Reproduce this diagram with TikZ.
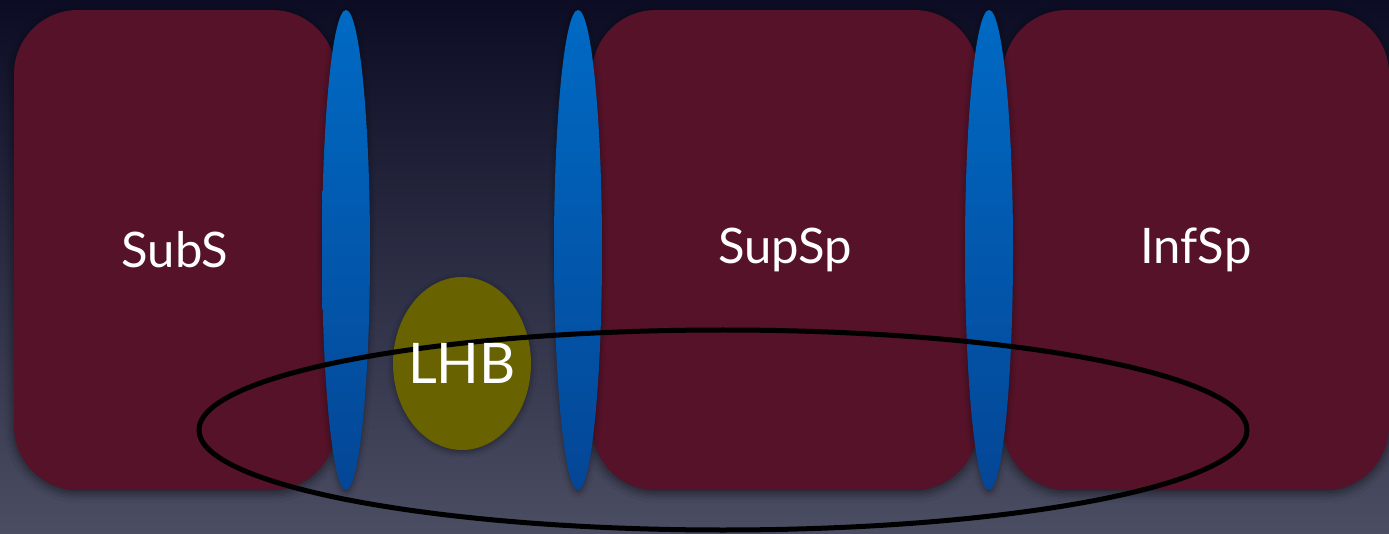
\documentclass[tikz,border=0pt]{standalone}
\usepackage{fontspec}
\setmainfont{Lato}
\usetikzlibrary{shapes.geometric,shadows.blur}

\definecolor{bgtop}{RGB}{12,13,36}
\definecolor{bgmid}{RGB}{36,38,62}
\definecolor{bgbot}{RGB}{75,77,99}
\definecolor{maroon}{RGB}{86,18,40}
\definecolor{bluetop}{RGB}{0,106,196}
\definecolor{bluebot}{RGB}{4,70,150}
\definecolor{olive}{RGB}{104,98,0}

\tikzset{
  region/.style={rectangle, rounded corners=64pt, fill=maroon, inner sep=0pt,
    minimum height=480pt, text=white, font=\fontsize{49}{52}\selectfont,
    blur shadow={shadow xshift=0pt, shadow yshift=-3pt, shadow blur radius=9pt, shadow opacity=55}},
  wall/.style={ellipse, inner sep=0pt, minimum width=48pt, minimum height=480pt,
    top color=bluetop, bottom color=bluebot,
    blur shadow={shadow xshift=0pt, shadow yshift=-2pt, shadow blur radius=6pt, shadow opacity=45}},
  blob/.style={ellipse, inner sep=0pt, fill=olive, minimum width=138pt, minimum height=173pt,
    blur shadow={shadow xshift=0pt, shadow yshift=-2pt, shadow blur radius=6pt, shadow opacity=45}},
  ring/.style={ellipse, draw=black, line width=5pt, inner sep=0pt,
    minimum width=1048pt, minimum height=200pt},
  blobtext/.style={text=white, font=\fontsize{56}{60}\selectfont, inner sep=0pt}
}

\begin{document}
\begin{tikzpicture}[x=1pt, y=-1pt]
  % background
  \shade[top color=bgtop, middle color=bgmid, bottom color=bgbot] (0,0) rectangle (1389,534);
  \useasboundingbox (0,0) rectangle (1389,534);

  % regions
  \node[region, minimum width=322pt] (subs) at (175,250) {SubS};
  \node[region, minimum width=386pt] (supsp) at (785,250) {SupSp};
  \node[region, minimum width=386pt] (infsp) at (1196,250) {InfSp};

  % walls between regions
  \node[wall] (wallA) at (346,250) {};
  \node[wall] (wallB) at (578,250) {};
  \node[wall] (wallC) at (989,250) {};

  % the small body and the ring around the lower part
  \node[blob] (lhb) at (462,363.5) {};
  \node[ring] (band) at (723,430) {};
  \node[blobtext] (lhblabel) at (lhb.center) {LHB};
\end{tikzpicture}
\end{document}
